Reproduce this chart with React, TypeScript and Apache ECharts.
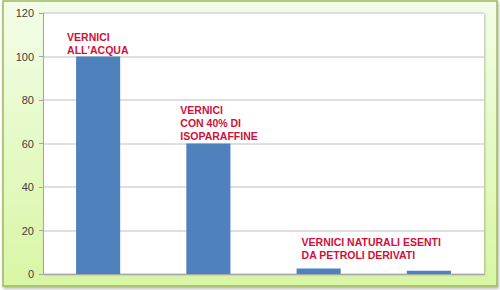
import React, { useEffect, useRef } from "react";
import * as echarts from "echarts";

const categories = ["VERNICI ALL'ACQUA", "VERNICI CON 40% DI ISOPARAFFINE", "VERNICI NATURALI ESENTI DA PETROLI DERIVATI", ""];
const values = [100, 60, 2.5, 1.5];
const barLabels = ["VERNICI\nALL'ACQUA", "VERNICI\nCON 40% DI\nISOPARAFFINE", "VERNICI NATURALI ESENTI\nDA PETROLI DERIVATI", ""];
const labelOffsets: [number, number][] = [[-9, -26], [-6, -40], [5, -33], [0, 0]];

export default function App() {
  const ref = useRef<HTMLDivElement>(null);
  useEffect(() => {
    if (!ref.current) return;
    const chart = echarts.init(ref.current, null, { renderer: "svg" });
    chart.setOption({
      animation: false,
      graphic: [
        {
          type: "rect",
          z: -10,
          shape: { x: 3, y: 1, width: 494, height: 285 },
          style: {
            fill: new echarts.graphic.LinearGradient(0, 0, 0, 1, [
              { offset: 0, color: "#f3fde8" },
              { offset: 1, color: "#d8f6a4" },
            ]),
            stroke: "#9bbb59",
            lineWidth: 1.5,
            shadowColor: "rgba(0,0,0,0.3)",
            shadowBlur: 3,
            shadowOffsetX: 1,
            shadowOffsetY: 2,
          },
        },
      ],
      grid: {
        left: 43,
        top: 13,
        right: 16,
        bottom: 16,
        show: true,
        backgroundColor: "#ffffff",
        borderWidth: 0,
        shadowColor: "rgba(0,0,0,0.25)",
        shadowBlur: 2,
        shadowOffsetX: 1,
        shadowOffsetY: 1,
      },
      xAxis: {
        type: "category",
        data: categories,
        axisLine: { show: true, lineStyle: { color: "#a6a6a6", width: 1 } },
        axisTick: { show: false },
        axisLabel: { show: false },
      },
      yAxis: {
        type: "value",
        min: 0,
        max: 120,
        interval: 20,
        axisLine: { show: true, lineStyle: { color: "#a6a6a6", width: 1 } },
        axisTick: { show: true, length: 4, lineStyle: { color: "#a6a6a6" } },
        axisLabel: {
          margin: 9,
          color: "#404040",
          fontFamily: "Liberation Sans, Arial, sans-serif",
          fontSize: 11,
        },
        splitLine: { show: true, lineStyle: { color: "#d4d4d4", width: 1.5 } },
      },
      series: [
        {
          type: "bar",
          barWidth: "40%",
          data: values.map((v, i) => ({
            value: v,
            label: {
              show: barLabels[i] !== "",
              position: labelOffsets[i],
              formatter: barLabels[i],
              align: "left",
              verticalAlign: "top",
              color: "#d0103a",
              fontWeight: "bold",
              fontSize: 10.5,
              lineHeight: 13,
              fontFamily: "Liberation Sans, Arial, sans-serif",
            },
          })),
          itemStyle: { color: "#4f81bd" },
        },
      ],
    });
    return () => chart.dispose();
  }, []);
  return (
    <div
      ref={ref}
      style={{ position: "absolute", left: 0, top: 0, width: 500, height: 290 }}
    />
  );
}
